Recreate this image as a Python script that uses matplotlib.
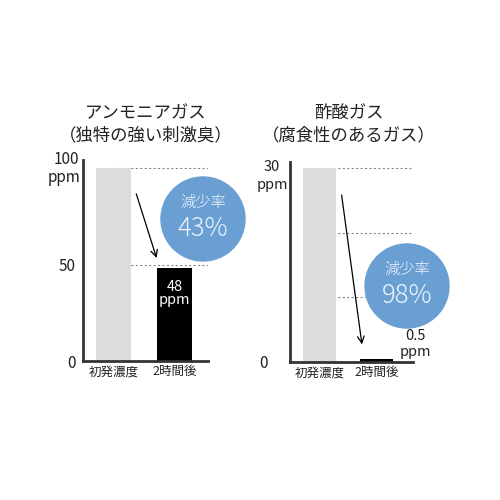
import matplotlib
matplotlib.use("Agg")
import matplotlib.pyplot as plt
from matplotlib.patches import Circle

plt.rcParams['font.family'] = ['Noto Sans CJK JP', 'DejaVu Sans']

categories = ["初発濃度", "2時間後"]
ammonia_values = [100, 48]
acetic_values = [30, 0.5]
ammonia_title = ["アンモニアガス", "（独特の強い刺激臭）"]
acetic_title = ["酢酸ガス", "（腐食性のあるガス）"]
ammonia_rate = "43%"
acetic_rate = "98%"
bar_colors = ["#dcdcdc", "#000000"]
txt = "#222222"

W = 500
fig = plt.figure(figsize=(5, 5), dpi=100)

def px_axes(x0, x1, ytop, ybot):
    return fig.add_axes([x0 / W, 1 - ybot / W, (x1 - x0) / W, (ybot - ytop) / W])

def style(ax, pad):
    for s in ["top", "right"]:
        ax.spines[s].set_visible(False)
    for s in ["left", "bottom"]:
        ax.spines[s].set_color("#333333")
        ax.spines[s].set_linewidth(2)
    ax.tick_params(axis="y", length=0, labelsize=11, colors=txt, pad=pad)
    ax.tick_params(axis="x", length=0, labelsize=9, colors=txt, pad=3)

# Left chart
ax1 = px_axes(83, 208, 160.3, 361)
ax1.set_xlim(-0.5, 1.55)
ax1.set_ylim(0, 104)
ax1.hlines([100, 50], 0, 1.55, colors="#888888", linestyles=(0, (2, 2)), linewidth=0.8, zorder=1)
ax1.bar([0, 1], ammonia_values, width=0.56, color=bar_colors, zorder=2)
ax1.set_yticks([0, 50])
ax1.set_yticklabels(["0", "50"])
ax1.set_xticks([0, 1])
ax1.set_xticklabels(categories)
style(ax1, 5)
ax1.text(1, ammonia_values[1] - 6, f"{ammonia_values[1]}\nppm", color="white", ha="center", va="top",
         fontsize=10.5, linespacing=0.95, zorder=3)
ax1.annotate("", xy=(0.72, 52), xytext=(0.36, 88),
             arrowprops=dict(arrowstyle="->", color="black", lw=0.9, mutation_scale=12))

# Right chart
ax2 = px_axes(290, 413, 162, 362)
ax2.set_xlim(-0.52, 1.64)
ax2.set_ylim(0, 30.9)
ax2.hlines([30, 20, 10], 0, 1.64, colors="#888888", linestyles=(0, (2, 2)), linewidth=0.8, zorder=1)
ax2.bar([0, 1], acetic_values, width=0.58, color=bar_colors, zorder=2)
ax2.set_yticks([0])
ax2.set_yticklabels(["0"])
ax2.set_xticks([0, 1])
ax2.set_xticklabels(categories)
style(ax2, 16)
ax2.annotate("", xy=(0.75, 2.3), xytext=(0.38, 26.2),
             arrowprops=dict(arrowstyle="->", color="black", lw=0.9, mutation_scale=12))

# Overlay for text and circles in pixel coordinates
ov = fig.add_axes([0, 0, 1, 1])
ov.set_xlim(0, W)
ov.set_ylim(W, 0)
ov.axis("off")
ov.patch.set_alpha(0)

# titles
for cx, lines in [(146, ammonia_title), (349, acetic_title)]:
    ov.text(cx, 113, lines[0], ha="center", va="center", fontsize=12.5, color=txt)
    ov.text(cx, 135, lines[1], ha="center", va="center", fontsize=12.5, color=txt)

# top ppm labels
ov.text(66, 160, "100", ha="center", va="center", fontsize=11, color=txt)
ov.text(64, 178, "ppm", ha="center", va="center", fontsize=11, color=txt)
ov.text(272, 167, "30", ha="center", va="center", fontsize=10.5, color=txt)
ov.text(272, 185, "ppm", ha="center", va="center", fontsize=10.5, color=txt)

# 0.5 ppm label
ov.text(415, 336, f"{acetic_values[1]}", ha="center", va="center", fontsize=10.5, color=txt)
ov.text(415, 352, "ppm", ha="center", va="center", fontsize=10.5, color=txt)

for (cx, cy), rate in [((203, 219), ammonia_rate), ((407, 286), acetic_rate)]:
    ov.add_patch(Circle((cx, cy), 42, color="#6a9fd4", zorder=5))
    ov.text(cx, cy - 16, "減少率", color="#f0f4fa", ha="center", va="center", fontsize=11, zorder=6,
            fontweight="light")
    ov.text(cx, cy + 10, rate, color="#f0f4fa", ha="center", va="center", fontsize=18.5, zorder=6,
            fontweight="light")

fig.savefig("out.png", dpi=100)
